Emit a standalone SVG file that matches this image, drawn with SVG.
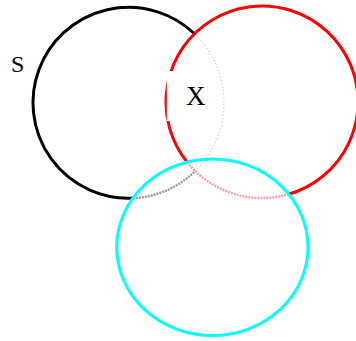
<svg xmlns="http://www.w3.org/2000/svg" width="356" height="341" viewBox="0 0 356 341">
<style>
.c{fill:none;stroke-width:3}
.lbl{font-family:"Liberation Serif","Times New Roman",serif;fill:#000}
</style>
<rect width="356" height="341" fill="#fff"/>
<g id="setS">
<path class="c" stroke="#000" d="M194.48,33.75 A95.5,95.5 0 1 0 132.86,198.2"/>
<path fill="none" stroke="#9a9a9a" stroke-width="2.5" stroke-dasharray="2 1" d="M132.86,198.2 A95.5,95.5 0 0 0 195.3,171.05"/>
<path fill="none" stroke="#b0b0b0" stroke-width="1" stroke-dasharray="1 2.5" d="M195.3,171.05 A95.5,95.5 0 0 0 194.48,33.75"/>
<text class="lbl" x="11" y="72" font-size="24">S</text>
</g>
<g id="setX">
<path class="c" stroke="#f00" d="M288.6,194.25 A96,96 0 1 0 187.2,162.2"/>
<path fill="none" stroke="#f7a3a3" stroke-width="2.5" stroke-dasharray="2 1" d="M187.2,162.2 A96,96 0 0 0 288.6,194.25"/>
<rect x="166.8" y="71" width="45" height="50" fill="#fff"/>
<text class="lbl" x="186" y="105" font-size="27">X</text>
</g>
<g id="setC">
<ellipse class="c" stroke="#0ff" cx="212.35" cy="247.25" rx="95.65" ry="88.25"/>
</g>
<g id="connectors"/>
</svg>
